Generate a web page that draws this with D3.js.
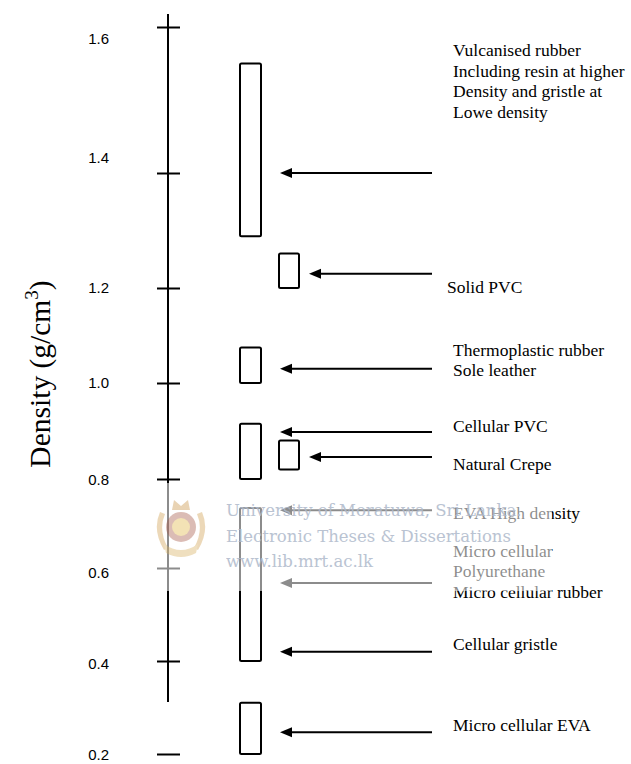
<!DOCTYPE html>
<html>
<head>
<meta charset="utf-8">
<script src="https://cdnjs.cloudflare.com/ajax/libs/d3/7.8.5/d3.min.js"></script>
<style>
  body { margin: 0; background: #fff; }
  text { font-family: "Liberation Serif", "DejaVu Serif", serif; }
</style>
</head>
<body>
<script>

const w = 631;
const h = 764;

// axis ticks
const tickValues = [1.6, 1.4, 1.2, 1.0, 0.8, 0.6, 0.4, 0.2];
const tickLabels = ["1.6", "1.4", "1.2", "1.0", "0.8", "0.6", "0.4", "0.2"];

// density ranges (g/cm3), one per box, and which column the box sits in
const barLow  = [1.29, 1.20, 1.00, 0.80, 0.82, 0.40, 0.20];
const barHigh = [1.55, 1.26, 1.075, 0.915, 0.88, 0.735, 0.31];
const barCol  = [0, 1, 0, 0, 1, 0, 0];

// arrows: density pointed at and the box they point to
const arrowValue = [1.40, 1.225, 1.03, 0.898, 0.846, 0.73, 0.568, 0.42, 0.247];
const arrowBar   = [0, 1, 2, 3, 4, 5, 5, 5, 6];

// material labels and the density of their first line
const labelLines = [
    ["Vulcanised rubber", "Including resin at higher", "Density and gristle at", "Lowe density"],
    ["Solid PVC"],
    ["Thermoplastic rubber", "Sole leather"],
    ["Cellular PVC"],
    ["Natural Crepe"],
    ["EVA High density"],
    ["Micro cellular", "Polyurethane"],
    ["Micro cellular rubber"],
    ["Cellular gristle"],
    ["Micro cellular EVA"]
];
const labelAt = [1.56, 1.19, 1.057, 0.898, 0.819, 0.71, 0.625, 0.535, 0.424, 0.249];

const watermark = ["University of Moratuwa, Sri Lanka.", "Electronic Theses & Dissertations", "www.lib.mrt.ac.lk"];

// the scanned axis is not evenly spaced, so the scale is piecewise
const y = d3.scaleLinear()
    .domain(tickValues)
    .range([27, 173, 288, 383, 479, 568, 661, 754]);
const yLabel = d3.scaleLinear()
    .domain(tickValues)
    .range([39, 158, 288, 383, 480, 573, 664, 755]);
const x = d3.scaleLinear().domain([0, 1]).range([240, 279]);
const barW = [21, 20];
const axisX = 168;

let svg = d3.select("body")
    .append("svg")
    .attr("width", w)
    .attr("height", h);

svg.append("rect").attr("width", w).attr("height", h).attr("fill", "#fff");

// axis line + ticks crossing it
svg.append("line")
    .attr("x1", axisX).attr("x2", axisX)
    .attr("y1", 14).attr("y2", 702)
    .attr("stroke", "#000").attr("stroke-width", 2);

let ax = svg.append("g").attr("transform", "translate(" + axisX + ",0)");
ax.append("g").call(d3.axisLeft(y).tickValues(tickValues).tickSize(11).tickFormat(""));
ax.append("g").call(d3.axisRight(y).tickValues(tickValues).tickSize(12).tickFormat(""));
ax.selectAll(".domain").remove();
ax.selectAll(".tick line").attr("stroke", "#000").attr("stroke-width", 2);

svg.append("g")
    .selectAll("text")
    .data(tickValues)
    .join("text")
    .attr("x", 109)
    .attr("y", d => yLabel(d))
    .attr("dy", "0.36em")
    .attr("text-anchor", "end")
    .style("font-family", "'Liberation Sans', Arial, sans-serif")
    .style("font-size", "15px")
    .text((d, i) => tickLabels[i]);

// axis title
let title = svg.append("text")
    .attr("transform", "translate(50,374) rotate(-90)")
    .attr("text-anchor", "middle")
    .style("font-size", "29.5px");
title.append("tspan").text("Density (g/cm");
title.append("tspan").attr("dy", -12).style("font-size", "19px").text("3");
title.append("tspan").attr("dy", 12).text(")");

// boxes
svg.append("g")
    .selectAll("rect")
    .data(barLow)
    .join("rect")
    .attr("x", (d, i) => x(barCol[i]))
    .attr("y", (d, i) => y(barHigh[i]))
    .attr("width", (d, i) => barW[barCol[i]])
    .attr("height", (d, i) => y(barLow[i]) - y(barHigh[i]))
    .attr("rx", 1.5)
    .attr("fill", "#fff")
    .attr("stroke", "#000")
    .attr("stroke-width", 2);

// arrows
function tipX(b) {
    let c = barCol[b];
    return x(c) + barW[c] + (c === 0 ? 19 : 10);
}
let arrows = svg.append("g")
    .selectAll("g")
    .data(arrowValue)
    .join("g");
arrows.append("line")
    .attr("x1", (d, i) => tipX(arrowBar[i]) + 8)
    .attr("x2", 432)
    .attr("y1", d => y(d))
    .attr("y2", d => y(d))
    .attr("stroke", "#000")
    .attr("stroke-width", 2);
arrows.append("path")
    .attr("d", (d, i) => {
        let tx = tipX(arrowBar[i]), ty = y(d);
        return "M" + tx + "," + ty + "L" + (tx + 12) + "," + (ty - 5) + "L" + (tx + 12) + "," + (ty + 5) + "Z";
    })
    .attr("fill", "#000");

// labels
svg.append("clipPath").attr("id", "cut")
    .append("rect").attr("x", 0).attr("y", 0).attr("width", w).attr("height", 293);

svg.append("g")
    .selectAll("text")
    .data(labelLines)
    .join("text")
    .attr("x", (d, i) => i === 1 ? 447 : 453)
    .attr("y", (d, i) => y(labelAt[i]))
    .attr("clip-path", (d, i) => i === 1 ? "url(#cut)" : null)
    .style("font-size", "17.5px")
    .selectAll("tspan")
    .data(d => d)
    .join("tspan")
    .attr("x", function () { return this.parentNode.getAttribute("x"); })
    .attr("dy", (d, j) => j === 0 ? 0 : 20.5)
    .text(d => d);

// scanned watermark: a faded band with the library stamp on top
svg.append("rect")
    .attr("x", 150).attr("y", 483)
    .attr("width", 402).attr("height", 108)
    .attr("fill", "#fff").attr("opacity", 0.55);

let seal = svg.append("g").attr("opacity", 0.4);
seal.append("path").attr("d", "M160,512 Q152,530 164,550 L168,548 Q158,530 165,514 Z").attr("fill", "#d0a050");
seal.append("path").attr("d", "M202,512 Q210,530 198,550 L194,548 Q204,530 197,514 Z").attr("fill", "#d0a050");
seal.append("circle").attr("cx", 181).attr("cy", 527).attr("r", 15).attr("fill", "#a85a48");
seal.append("circle").attr("cx", 181).attr("cy", 527).attr("r", 9).attr("fill", "#e2b848");
seal.append("path").attr("d", "M172,510 L174,500 L181,506 L188,500 L190,510 Z").attr("fill", "#c89040");
seal.append("path").attr("d", "M164,544 Q181,556 198,544 L196,553 Q181,561 166,553 Z").attr("fill", "#d8b060");

svg.append("g")
    .selectAll("text")
    .data(watermark)
    .join("text")
    .attr("x", 226)
    .attr("y", (d, i) => 516 + i * 25.5)
    .attr("fill", "#aeb9cb")
    .attr("opacity", 0.85)
    .style("font-family", "'DejaVu Serif', serif")
    .style("font-size", "16.5px")
    .text(d => d);

</script>
</body>
</html>
